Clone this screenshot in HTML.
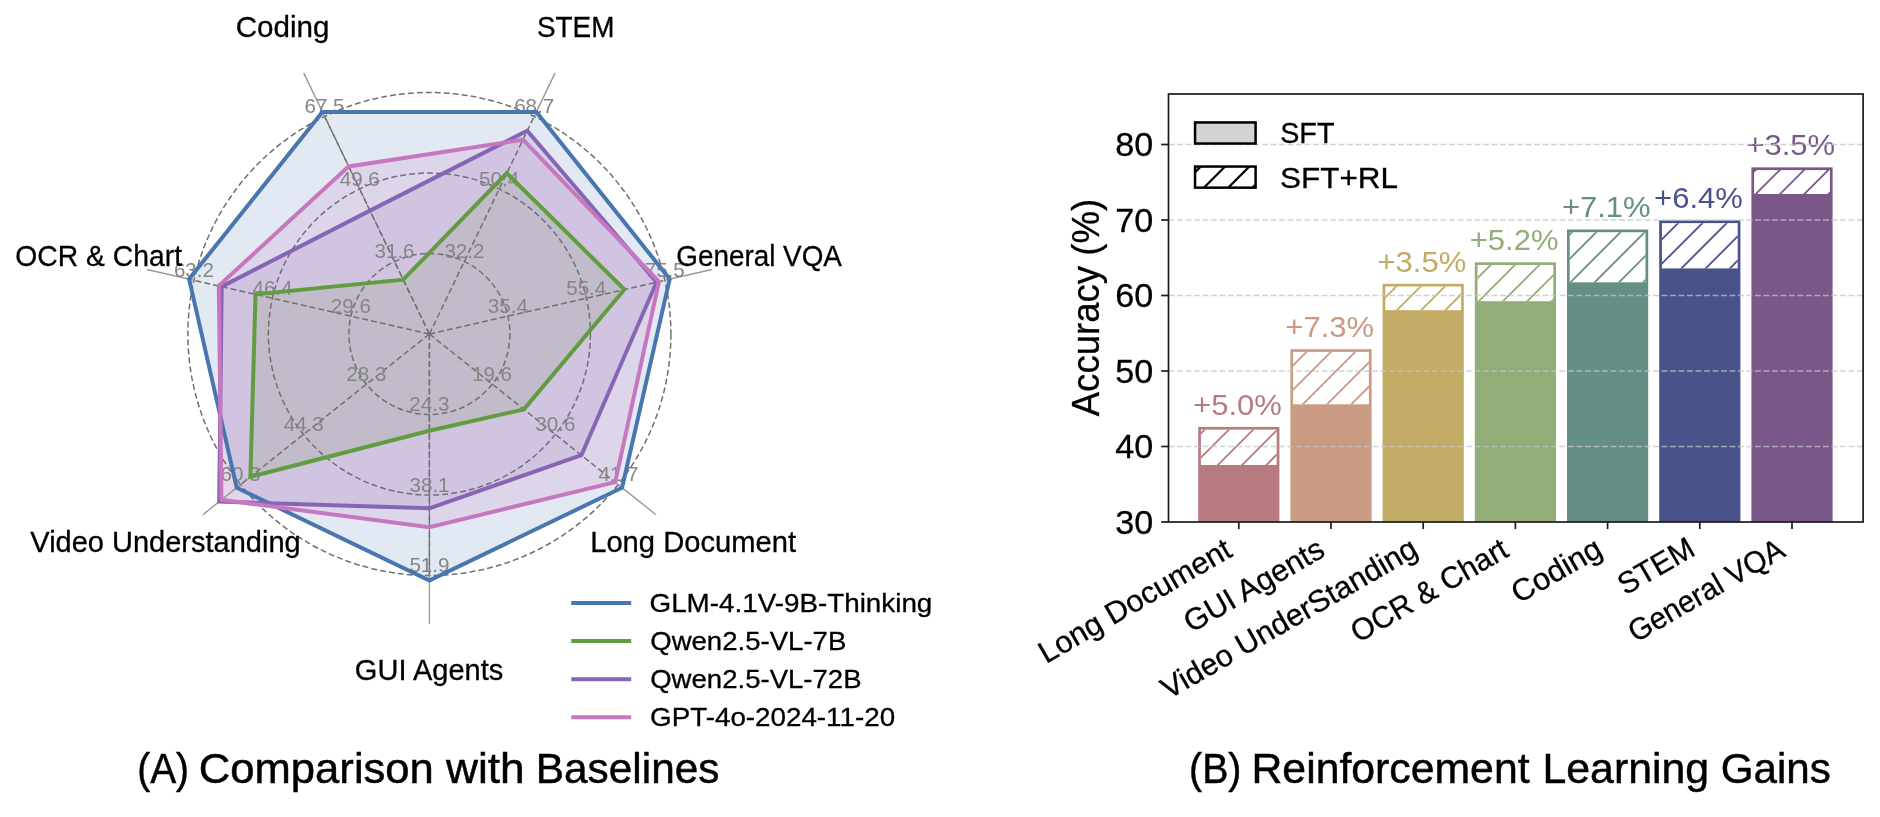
<!DOCTYPE html>
<html><head><meta charset="utf-8"><title>chart</title>
<style>html,body{margin:0;padding:0;background:#fff}svg{display:block;will-change:transform}text{font-family:"Liberation Sans",sans-serif}</style></head><body>
<svg width="1880" height="817" viewBox="0 0 1880 817">
<rect width="1880" height="817" fill="#fff"/>
<g id="radar">
<polygon points="669.7,279.1 536.4,111.9 322.4,111.9 189.1,279.1 236.7,487.7 429.4,580.5 622.1,487.7" fill="#4876af" fill-opacity="0.16" stroke="none"/>
<polygon points="656.6,282.2 527.2,130.8 370.0,210.6 221.7,286.6 219.2,501.6 429.4,508.3 581.4,455.2" fill="#8765b6" fill-opacity="0.16" stroke="none"/>
<polygon points="624.4,289.5 506.8,173.2 403.2,279.7 255.5,294.3 250.4,476.8 429.4,430.7 523.9,409.4" fill="#629c40" fill-opacity="0.16" stroke="none"/>
<polygon points="659.0,281.6 523.0,139.7 348.7,166.4 218.8,285.9 221.4,499.8 429.4,527.2 615.2,482.2" fill="#c777bf" fill-opacity="0.16" stroke="none"/>
<circle cx="429.4" cy="334.0" r="80.5" fill="none" stroke="#707070" stroke-width="1.5" stroke-dasharray="5.9 3.1"/>
<circle cx="429.4" cy="334.0" r="161.0" fill="none" stroke="#707070" stroke-width="1.5" stroke-dasharray="5.9 3.1"/>
<circle cx="429.4" cy="334.0" r="241.5" fill="none" stroke="#707070" stroke-width="1.5" stroke-dasharray="5.9 3.1"/>
<line x1="429.4" y1="334.0" x2="664.8" y2="280.3" stroke="#707070" stroke-width="1.5" stroke-dasharray="5.9 3.1"/>
<line x1="664.8" y1="280.3" x2="711.9" y2="269.5" stroke="#999" stroke-width="1.4"/>
<line x1="429.4" y1="334.0" x2="534.2" y2="116.4" stroke="#707070" stroke-width="1.5" stroke-dasharray="5.9 3.1"/>
<line x1="534.2" y1="116.4" x2="555.1" y2="72.9" stroke="#999" stroke-width="1.4"/>
<line x1="429.4" y1="334.0" x2="324.6" y2="116.4" stroke="#707070" stroke-width="1.5" stroke-dasharray="5.9 3.1"/>
<line x1="429.4" y1="334.0" x2="324.6" y2="116.4" stroke="#707070" stroke-width="1.3" stroke-dasharray="5.9 3.25"/>
<line x1="324.6" y1="116.4" x2="303.7" y2="72.9" stroke="#999" stroke-width="1.4"/>
<line x1="429.4" y1="334.0" x2="194.0" y2="280.3" stroke="#707070" stroke-width="1.5" stroke-dasharray="5.9 3.1"/>
<line x1="194.0" y1="280.3" x2="146.9" y2="269.5" stroke="#999" stroke-width="1.4"/>
<line x1="429.4" y1="334.0" x2="240.6" y2="484.6" stroke="#707070" stroke-width="1.5" stroke-dasharray="5.9 3.1"/>
<line x1="240.6" y1="484.6" x2="202.8" y2="514.7" stroke="#999" stroke-width="1.4"/>
<line x1="429.4" y1="334.0" x2="429.4" y2="575.5" stroke="#707070" stroke-width="1.5" stroke-dasharray="5.9 3.1"/>
<line x1="429.4" y1="334.0" x2="429.4" y2="575.5" stroke="#707070" stroke-width="1.3" stroke-dasharray="5.9 3.25"/>
<line x1="429.4" y1="575.5" x2="429.4" y2="623.8" stroke="#999" stroke-width="1.4"/>
<line x1="429.4" y1="334.0" x2="618.2" y2="484.6" stroke="#707070" stroke-width="1.5" stroke-dasharray="5.9 3.1"/>
<line x1="618.2" y1="484.6" x2="656.0" y2="514.7" stroke="#999" stroke-width="1.4"/>
<text transform="translate(487.75,312.99) scale(1.0000,1)" font-size="20.6" fill="#858585">35.4</text>
<text transform="translate(566.20,295.07) scale(1.0000,1)" font-size="20.6" fill="#858585">55.4</text>
<text transform="translate(644.68,277.16) scale(1.0000,1)" font-size="20.6" fill="#858585">75.5</text>
<text transform="translate(444.42,258.37) scale(1.0000,1)" font-size="20.6" fill="#858585">32.2</text>
<text transform="translate(479.09,185.84) scale(1.0000,1)" font-size="20.6" fill="#858585">50.4</text>
<text transform="translate(514.15,113.32) scale(1.0000,1)" font-size="20.6" fill="#858585">68.7</text>
<text transform="translate(374.49,258.37) scale(1.0000,1)" font-size="20.6" fill="#858585">31.6</text>
<text transform="translate(339.72,185.84) scale(1.0000,1)" font-size="20.6" fill="#858585">49.6</text>
<text transform="translate(304.48,113.32) scale(1.0000,1)" font-size="20.6" fill="#858585">67.5</text>
<text transform="translate(330.81,312.99) scale(1.0000,1)" font-size="20.6" fill="#858585">29.6</text>
<text transform="translate(252.45,295.07) scale(1.0000,1)" font-size="20.6" fill="#858585">46.4</text>
<text transform="translate(173.92,277.16) scale(1.0000,1)" font-size="20.6" fill="#858585">63.2</text>
<text transform="translate(346.35,381.09) scale(1.0000,1)" font-size="20.6" fill="#858585">28.3</text>
<text transform="translate(283.70,431.28) scale(1.0000,1)" font-size="20.6" fill="#858585">44.3</text>
<text transform="translate(220.48,481.47) scale(1.0000,1)" font-size="20.6" fill="#858585">60.3</text>
<text transform="translate(409.29,411.40) scale(1.0000,1)" font-size="20.6" fill="#858585">24.3</text>
<text transform="translate(409.47,491.90) scale(1.0000,1)" font-size="20.6" fill="#858585">38.1</text>
<text transform="translate(409.42,572.40) scale(1.0000,1)" font-size="20.6" fill="#858585">51.9</text>
<text transform="translate(471.97,381.09) scale(1.0000,1)" font-size="20.6" fill="#858585">19.6</text>
<text transform="translate(535.29,431.28) scale(1.0000,1)" font-size="20.6" fill="#858585">30.6</text>
<text transform="translate(598.46,481.47) scale(1.0000,1)" font-size="20.6" fill="#858585">41.7</text>
<polygon points="669.7,279.1 536.4,111.9 322.4,111.9 189.1,279.1 236.7,487.7 429.4,580.5 622.1,487.7" fill="none" stroke="#4876af" stroke-width="4.0" stroke-linejoin="miter" stroke-miterlimit="2.2"/>
<polygon points="624.4,289.5 506.8,173.2 403.2,279.7 255.5,294.3 250.4,476.8 429.4,430.7 523.9,409.4" fill="none" stroke="#629c40" stroke-width="4.0" stroke-linejoin="miter" stroke-miterlimit="2.2"/>
<polygon points="656.6,282.2 527.2,130.8 370.0,210.6 221.7,286.6 219.2,501.6 429.4,508.3 581.4,455.2" fill="none" stroke="#8765b6" stroke-width="4.0" stroke-linejoin="miter" stroke-miterlimit="2.2"/>
<polygon points="659.0,281.6 523.0,139.7 348.7,166.4 218.8,285.9 221.4,499.8 429.4,527.2 615.2,482.2" fill="none" stroke="#c777bf" stroke-width="4.0" stroke-linejoin="miter" stroke-miterlimit="2.2"/>
<text transform="translate(676.31,266.30) scale(0.9539,1)" font-size="29.2" fill="#000" stroke="#000" stroke-width="0.3">General VQA</text>
<text transform="translate(536.94,36.70) scale(0.9563,1)" font-size="29.2" fill="#000" stroke="#000" stroke-width="0.3">STEM</text>
<text transform="translate(235.72,36.80) scale(1.0134,1)" font-size="29.2" fill="#000" stroke="#000" stroke-width="0.3">Coding</text>
<text transform="translate(15.36,266.40) scale(0.9696,1)" font-size="29.2" fill="#000" stroke="#000" stroke-width="0.3">OCR &amp; Chart</text>
<text transform="translate(30.35,552.20) scale(0.9934,1)" font-size="29.2" fill="#000" stroke="#000" stroke-width="0.3">Video Understanding</text>
<text transform="translate(354.85,679.80) scale(0.9940,1)" font-size="29.2" fill="#000" stroke="#000" stroke-width="0.3">GUI Agents</text>
<text transform="translate(590.19,552.30) scale(0.9989,1)" font-size="29.2" fill="#000" stroke="#000" stroke-width="0.3">Long Document</text>
<line x1="571.2" y1="603.0" x2="631.2" y2="603.0" stroke="#4876af" stroke-width="4.0"/>
<text transform="translate(649.51,611.90) scale(1.0910,1)" font-size="25.5" fill="#000" stroke="#000" stroke-width="0.3">GLM-4.1V-9B-Thinking</text>
<line x1="571.2" y1="641.1" x2="631.2" y2="641.1" stroke="#629c40" stroke-width="4.0"/>
<text transform="translate(650.19,650.00) scale(1.0817,1)" font-size="25.5" fill="#000" stroke="#000" stroke-width="0.3">Qwen2.5-VL-7B</text>
<line x1="571.2" y1="679.2" x2="631.2" y2="679.2" stroke="#8765b6" stroke-width="4.0"/>
<text transform="translate(650.19,688.10) scale(1.0808,1)" font-size="25.5" fill="#000" stroke="#000" stroke-width="0.3">Qwen2.5-VL-72B</text>
<line x1="571.2" y1="717.3" x2="631.2" y2="717.3" stroke="#c777bf" stroke-width="4.0"/>
<text transform="translate(650.11,726.20) scale(1.0899,1)" font-size="25.5" fill="#000" stroke="#000" stroke-width="0.3">GPT-4o-2024-11-20</text>
<text transform="translate(137.17,782.70) scale(0.9052,1)" font-size="43" fill="#000" stroke="#000" stroke-width="0.5">(A)</text>
<text transform="translate(198.82,782.70) scale(1.0140,1)" font-size="43" fill="#000" stroke="#000" stroke-width="0.5">Comparison</text>
<text transform="translate(446.00,782.70) scale(1.0294,1)" font-size="43" fill="#000" stroke="#000" stroke-width="0.5">with</text>
<text transform="translate(535.80,782.70) scale(0.9854,1)" font-size="43" fill="#000" stroke="#000" stroke-width="0.5">Baselines</text>
</g>
<g id="bars">
<rect x="1198.2" y="426.9" width="81.2" height="95.1" fill="#b77b7f"/>
<rect x="1200.9" y="429.6" width="75.8" height="35.4" fill="#fff"/>
<clipPath id="c0"><rect x="1200.90" y="429.62" width="75.80" height="35.43"/></clipPath>
<g clip-path="url(#c0)" stroke="#b77b7f" stroke-width="1.8">
<line x1="1197.90" y1="387.85" x2="1279.70" y2="306.05"/>
<line x1="1197.90" y1="412.12" x2="1279.70" y2="330.32"/>
<line x1="1197.90" y1="436.39" x2="1279.70" y2="354.59"/>
<line x1="1197.90" y1="460.66" x2="1279.70" y2="378.86"/>
<line x1="1197.90" y1="484.93" x2="1279.70" y2="403.13"/>
<line x1="1197.90" y1="509.20" x2="1279.70" y2="427.40"/>
<line x1="1197.90" y1="533.47" x2="1279.70" y2="451.67"/>
<line x1="1197.90" y1="557.74" x2="1279.70" y2="475.94"/>
<line x1="1197.90" y1="582.01" x2="1279.70" y2="500.21"/>
</g>
<text transform="translate(1193.10,414.92) scale(1.0580,1)" font-size="29.3" fill="#b77b7f">+5.0%</text>
<rect x="1290.4" y="349.2" width="81.2" height="172.9" fill="#c89b82"/>
<rect x="1293.1" y="351.9" width="75.8" height="52.4" fill="#fff"/>
<clipPath id="c1"><rect x="1293.10" y="351.85" width="75.80" height="52.42"/></clipPath>
<g clip-path="url(#c1)" stroke="#c89b82" stroke-width="1.8">
<line x1="1290.10" y1="319.92" x2="1371.90" y2="238.12"/>
<line x1="1290.10" y1="344.19" x2="1371.90" y2="262.39"/>
<line x1="1290.10" y1="368.46" x2="1371.90" y2="286.66"/>
<line x1="1290.10" y1="392.73" x2="1371.90" y2="310.93"/>
<line x1="1290.10" y1="417.00" x2="1371.90" y2="335.20"/>
<line x1="1290.10" y1="441.27" x2="1371.90" y2="359.47"/>
<line x1="1290.10" y1="465.54" x2="1371.90" y2="383.74"/>
<line x1="1290.10" y1="489.81" x2="1371.90" y2="408.01"/>
<line x1="1290.10" y1="514.08" x2="1371.90" y2="432.28"/>
</g>
<text transform="translate(1285.30,337.15) scale(1.0580,1)" font-size="29.3" fill="#c89b82">+7.3%</text>
<rect x="1382.6" y="283.8" width="81.2" height="238.2" fill="#c2ab65"/>
<rect x="1385.3" y="286.5" width="75.8" height="23.7" fill="#fff"/>
<clipPath id="c2"><rect x="1385.30" y="286.55" width="75.80" height="23.73"/></clipPath>
<g clip-path="url(#c2)" stroke="#c2ab65" stroke-width="1.8">
<line x1="1382.30" y1="251.99" x2="1464.10" y2="170.19"/>
<line x1="1382.30" y1="276.26" x2="1464.10" y2="194.46"/>
<line x1="1382.30" y1="300.53" x2="1464.10" y2="218.73"/>
<line x1="1382.30" y1="324.80" x2="1464.10" y2="243.00"/>
<line x1="1382.30" y1="349.07" x2="1464.10" y2="267.27"/>
<line x1="1382.30" y1="373.34" x2="1464.10" y2="291.54"/>
<line x1="1382.30" y1="397.61" x2="1464.10" y2="315.81"/>
<line x1="1382.30" y1="421.88" x2="1464.10" y2="340.08"/>
</g>
<text transform="translate(1377.50,271.85) scale(1.0580,1)" font-size="29.3" fill="#c2ab65">+3.5%</text>
<rect x="1474.8" y="262.3" width="81.2" height="259.7" fill="#93ad79"/>
<rect x="1477.5" y="265.0" width="75.8" height="36.2" fill="#fff"/>
<clipPath id="c3"><rect x="1477.50" y="265.03" width="75.80" height="36.18"/></clipPath>
<g clip-path="url(#c3)" stroke="#93ad79" stroke-width="1.8">
<line x1="1474.50" y1="232.60" x2="1556.30" y2="150.80"/>
<line x1="1474.50" y1="256.87" x2="1556.30" y2="175.07"/>
<line x1="1474.50" y1="281.14" x2="1556.30" y2="199.34"/>
<line x1="1474.50" y1="305.41" x2="1556.30" y2="223.61"/>
<line x1="1474.50" y1="329.68" x2="1556.30" y2="247.88"/>
<line x1="1474.50" y1="353.95" x2="1556.30" y2="272.15"/>
<line x1="1474.50" y1="378.22" x2="1556.30" y2="296.42"/>
<line x1="1474.50" y1="402.49" x2="1556.30" y2="320.69"/>
<line x1="1474.50" y1="426.76" x2="1556.30" y2="344.96"/>
</g>
<text transform="translate(1469.70,250.33) scale(1.0580,1)" font-size="29.3" fill="#93ad79">+5.2%</text>
<rect x="1567.0" y="229.5" width="81.2" height="292.6" fill="#658f84"/>
<rect x="1569.7" y="232.2" width="75.8" height="50.1" fill="#fff"/>
<clipPath id="c4"><rect x="1569.70" y="232.19" width="75.80" height="50.07"/></clipPath>
<g clip-path="url(#c4)" stroke="#658f84" stroke-width="1.8">
<line x1="1566.70" y1="188.94" x2="1648.50" y2="107.14"/>
<line x1="1566.70" y1="213.21" x2="1648.50" y2="131.41"/>
<line x1="1566.70" y1="237.48" x2="1648.50" y2="155.68"/>
<line x1="1566.70" y1="261.75" x2="1648.50" y2="179.95"/>
<line x1="1566.70" y1="286.02" x2="1648.50" y2="204.22"/>
<line x1="1566.70" y1="310.29" x2="1648.50" y2="228.49"/>
<line x1="1566.70" y1="334.56" x2="1648.50" y2="252.76"/>
<line x1="1566.70" y1="358.83" x2="1648.50" y2="277.03"/>
<line x1="1566.70" y1="383.10" x2="1648.50" y2="301.30"/>
<line x1="1566.70" y1="407.37" x2="1648.50" y2="325.57"/>
</g>
<text transform="translate(1561.90,217.49) scale(1.0580,1)" font-size="29.3" fill="#658f84">+7.1%</text>
<rect x="1659.2" y="220.4" width="81.2" height="301.6" fill="#495289"/>
<rect x="1661.9" y="223.1" width="75.8" height="45.3" fill="#fff"/>
<clipPath id="c5"><rect x="1661.90" y="223.13" width="75.80" height="45.32"/></clipPath>
<g clip-path="url(#c5)" stroke="#495289" stroke-width="1.8">
<line x1="1658.90" y1="193.82" x2="1740.70" y2="112.02"/>
<line x1="1658.90" y1="218.09" x2="1740.70" y2="136.29"/>
<line x1="1658.90" y1="242.36" x2="1740.70" y2="160.56"/>
<line x1="1658.90" y1="266.63" x2="1740.70" y2="184.83"/>
<line x1="1658.90" y1="290.90" x2="1740.70" y2="209.10"/>
<line x1="1658.90" y1="315.17" x2="1740.70" y2="233.37"/>
<line x1="1658.90" y1="339.44" x2="1740.70" y2="257.64"/>
<line x1="1658.90" y1="363.71" x2="1740.70" y2="281.91"/>
<line x1="1658.90" y1="387.98" x2="1740.70" y2="306.18"/>
</g>
<text transform="translate(1654.10,208.43) scale(1.0580,1)" font-size="29.3" fill="#495289">+6.4%</text>
<rect x="1751.4" y="167.4" width="81.2" height="354.7" fill="#795889"/>
<rect x="1754.1" y="170.1" width="75.8" height="23.9" fill="#fff"/>
<clipPath id="c6"><rect x="1754.10" y="170.05" width="75.80" height="23.88"/></clipPath>
<g clip-path="url(#c6)" stroke="#795889" stroke-width="1.8">
<line x1="1751.10" y1="125.89" x2="1832.90" y2="44.09"/>
<line x1="1751.10" y1="150.16" x2="1832.90" y2="68.36"/>
<line x1="1751.10" y1="174.43" x2="1832.90" y2="92.63"/>
<line x1="1751.10" y1="198.70" x2="1832.90" y2="116.90"/>
<line x1="1751.10" y1="222.97" x2="1832.90" y2="141.17"/>
<line x1="1751.10" y1="247.24" x2="1832.90" y2="165.44"/>
<line x1="1751.10" y1="271.51" x2="1832.90" y2="189.71"/>
<line x1="1751.10" y1="295.78" x2="1832.90" y2="213.98"/>
<line x1="1751.10" y1="320.05" x2="1832.90" y2="238.25"/>
</g>
<text transform="translate(1746.30,155.35) scale(1.0580,1)" font-size="29.3" fill="#795889">+3.5%</text>
<line x1="1168.5" y1="446.5" x2="1863.1" y2="446.5" stroke="#c4c4c8" stroke-opacity="0.75" stroke-width="1.45" stroke-dasharray="5.9 2.6"/>
<line x1="1168.5" y1="371.0" x2="1863.1" y2="371.0" stroke="#c4c4c8" stroke-opacity="0.75" stroke-width="1.45" stroke-dasharray="5.9 2.6"/>
<line x1="1168.5" y1="295.5" x2="1863.1" y2="295.5" stroke="#c4c4c8" stroke-opacity="0.75" stroke-width="1.45" stroke-dasharray="5.9 2.6"/>
<line x1="1168.5" y1="220.0" x2="1863.1" y2="220.0" stroke="#c4c4c8" stroke-opacity="0.75" stroke-width="1.45" stroke-dasharray="5.9 2.6"/>
<line x1="1168.5" y1="144.5" x2="1863.1" y2="144.5" stroke="#c4c4c8" stroke-opacity="0.75" stroke-width="1.45" stroke-dasharray="5.9 2.6"/>
<rect x="1168.5" y="94.0" width="694.6" height="428.0" fill="none" stroke="#1a1a1a" stroke-width="1.7"/>
<line x1="1161.2" y1="522.0" x2="1168.5" y2="522.0" stroke="#1a1a1a" stroke-width="1.7"/>
<text transform="translate(1115.30,533.65) scale(1.0400,1)" font-size="32.9" fill="#000" stroke="#000" stroke-width="0.3">30</text>
<line x1="1161.2" y1="446.5" x2="1168.5" y2="446.5" stroke="#1a1a1a" stroke-width="1.7"/>
<text transform="translate(1115.30,458.15) scale(1.0400,1)" font-size="32.9" fill="#000" stroke="#000" stroke-width="0.3">40</text>
<line x1="1161.2" y1="371.0" x2="1168.5" y2="371.0" stroke="#1a1a1a" stroke-width="1.7"/>
<text transform="translate(1115.30,382.65) scale(1.0400,1)" font-size="32.9" fill="#000" stroke="#000" stroke-width="0.3">50</text>
<line x1="1161.2" y1="295.5" x2="1168.5" y2="295.5" stroke="#1a1a1a" stroke-width="1.7"/>
<text transform="translate(1115.30,307.15) scale(1.0400,1)" font-size="32.9" fill="#000" stroke="#000" stroke-width="0.3">60</text>
<line x1="1161.2" y1="220.0" x2="1168.5" y2="220.0" stroke="#1a1a1a" stroke-width="1.7"/>
<text transform="translate(1115.30,231.65) scale(1.0400,1)" font-size="32.9" fill="#000" stroke="#000" stroke-width="0.3">70</text>
<line x1="1161.2" y1="144.5" x2="1168.5" y2="144.5" stroke="#1a1a1a" stroke-width="1.7"/>
<text transform="translate(1115.30,156.15) scale(1.0400,1)" font-size="32.9" fill="#000" stroke="#000" stroke-width="0.3">80</text>
<line x1="1238.8" y1="522.05" x2="1238.8" y2="529.05" stroke="#1a1a1a" stroke-width="1.7"/>
<text transform="translate(1233.80,555.50) rotate(-30) scale(1.0020,1)" x="-216.51" font-size="30.7" fill="#000" stroke="#000" stroke-width="0.3">Long Document</text>
<line x1="1331.0" y1="522.05" x2="1331.0" y2="529.05" stroke="#1a1a1a" stroke-width="1.7"/>
<text transform="translate(1326.00,555.50) rotate(-30) scale(0.9973,1)" x="-155.96" font-size="30.7" fill="#000" stroke="#000" stroke-width="0.3">GUI Agents</text>
<line x1="1423.2" y1="522.05" x2="1423.2" y2="529.05" stroke="#1a1a1a" stroke-width="1.7"/>
<text transform="translate(1418.20,555.50) rotate(-30) scale(0.9969,1)" x="-289.35" font-size="30.7" fill="#000" stroke="#000" stroke-width="0.3">Video UnderStanding</text>
<line x1="1515.4" y1="522.05" x2="1515.4" y2="529.05" stroke="#1a1a1a" stroke-width="1.7"/>
<text transform="translate(1510.40,555.50) rotate(-30) scale(0.9730,1)" x="-180.59" font-size="30.7" fill="#000" stroke="#000" stroke-width="0.3">OCR &amp; Chart</text>
<line x1="1607.6" y1="522.05" x2="1607.6" y2="529.05" stroke="#1a1a1a" stroke-width="1.7"/>
<text transform="translate(1602.60,555.50) rotate(-30) scale(1.0172,1)" x="-95.32" font-size="30.7" fill="#000" stroke="#000" stroke-width="0.3">Coding</text>
<line x1="1699.8" y1="522.05" x2="1699.8" y2="529.05" stroke="#1a1a1a" stroke-width="1.7"/>
<text transform="translate(1694.80,555.50) rotate(-30) scale(0.9711,1)" x="-82.74" font-size="30.7" fill="#000" stroke="#000" stroke-width="0.3">STEM</text>
<line x1="1792.0" y1="522.05" x2="1792.0" y2="529.05" stroke="#1a1a1a" stroke-width="1.7"/>
<text transform="translate(1787.00,555.50) rotate(-30) scale(0.9576,1)" x="-182.51" font-size="30.7" fill="#000" stroke="#000" stroke-width="0.3">General VQA</text>
<text transform="translate(1099.00,416.20) rotate(-90) scale(0.9506,1)" x="-0.10" font-size="38.5" fill="#000" stroke="#000" stroke-width="0.3">Accuracy (%)</text>
<rect x="1195.05" y="122.45" width="60.55" height="21.1" fill="#d3d3d3" stroke="#000" stroke-width="2.5"/>
<rect x="1195.05" y="166.55" width="60.55" height="21.1" fill="#fff"/>
<clipPath id="ck"><rect x="1195.05" y="166.55" width="60.55" height="21.10"/></clipPath>
<g clip-path="url(#ck)" stroke="#000" stroke-width="2.2">
<line x1="1192.05" y1="126.73" x2="1258.60" y2="60.18"/>
<line x1="1192.05" y1="151.00" x2="1258.60" y2="84.45"/>
<line x1="1192.05" y1="175.27" x2="1258.60" y2="108.72"/>
<line x1="1192.05" y1="199.54" x2="1258.60" y2="132.99"/>
<line x1="1192.05" y1="223.81" x2="1258.60" y2="157.26"/>
<line x1="1192.05" y1="248.08" x2="1258.60" y2="181.53"/>
<line x1="1192.05" y1="272.35" x2="1258.60" y2="205.80"/>
<line x1="1192.05" y1="296.62" x2="1258.60" y2="230.07"/>
</g>
<rect x="1195.05" y="166.55" width="60.55" height="21.1" fill="none" stroke="#000" stroke-width="2.5"/>
<text transform="translate(1280.21,143.30) scale(0.9708,1)" font-size="29.6" fill="#000" stroke="#000" stroke-width="0.3">SFT</text>
<text transform="translate(1280.08,188.00) scale(1.0625,1)" font-size="29.6" fill="#000" stroke="#000" stroke-width="0.3">SFT+RL</text>
<text transform="translate(1189.04,782.70) scale(0.9148,1)" font-size="43" fill="#000" stroke="#000" stroke-width="0.5">(B)</text>
<text transform="translate(1251.47,782.70) scale(0.9948,1)" font-size="43" fill="#000" stroke="#000" stroke-width="0.5">Reinforcement</text>
<text transform="translate(1542.47,782.70) scale(0.9961,1)" font-size="43" fill="#000" stroke="#000" stroke-width="0.5">Learning</text>
<text transform="translate(1720.69,782.70) scale(0.9799,1)" font-size="43" fill="#000" stroke="#000" stroke-width="0.5">Gains</text>
</g>
</svg></body></html>
